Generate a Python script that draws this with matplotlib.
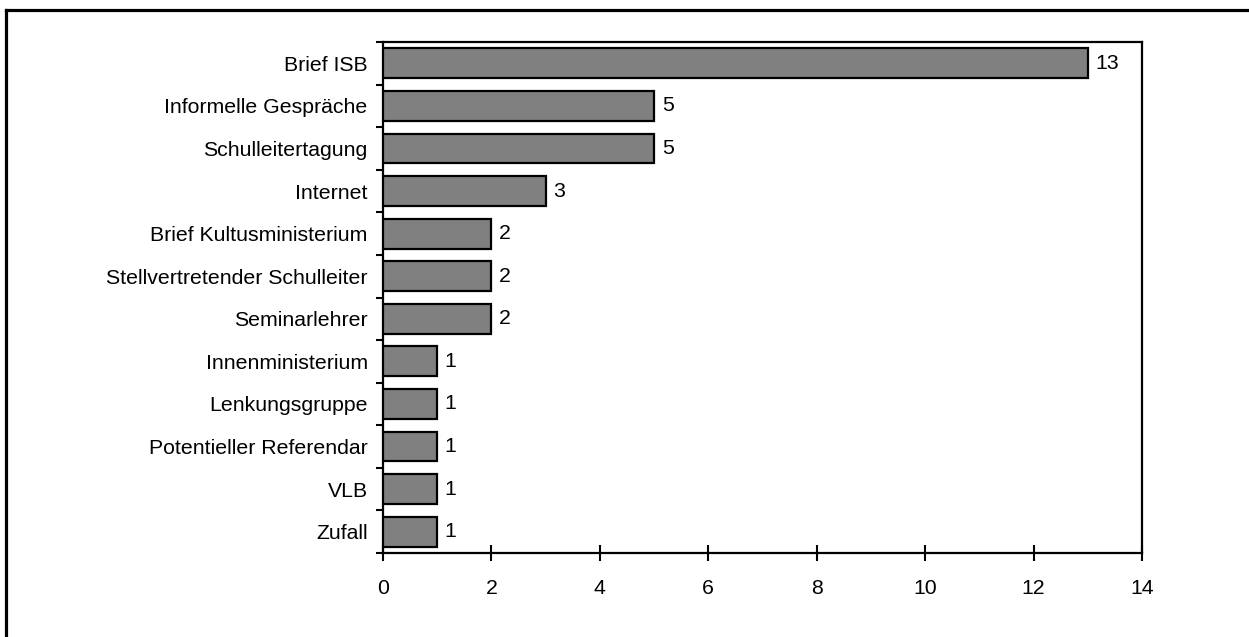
import matplotlib
matplotlib.use("Agg")
import matplotlib.pyplot as plt
from matplotlib.lines import Line2D

plt.rcParams['font.family'] = ['Liberation Sans', 'DejaVu Sans']

categories = ["Brief ISB", "Informelle Gespräche", "Schulleitertagung", "Internet",
              "Brief Kultusministerium", "Stellvertretender Schulleiter",
              "Seminarlehrer", "Innenministerium", "Lenkungsgruppe",
              "Potentieller Referendar", "VLB", "Zufall"]
values = [13, 5, 5, 3, 2, 2, 2, 1, 1, 1, 1, 1]
x_ticks = [0, 2, 4, 6, 8, 10, 12, 14]

FS = 15.3
W, H = 1249, 637
fig = plt.figure(figsize=(W / 100, H / 100), dpi=100)
ax = fig.add_axes([383 / W, 1 - 553 / H, (1142 - 383) / W, (553 - 42) / H])

pos = list(range(len(categories)))
ax.barh(pos, values, height=0.7, color="#808080", edgecolor="black", linewidth=1.6, zorder=3)
for p, v in zip(pos, values):
    ax.text(v + 0.14, p, str(v), va="center", ha="left", fontsize=FS)

ax.set_xlim(0, 14)
ax.set_ylim(len(categories) - 0.5, -0.5)
ax.set_xticks(x_ticks)
ax.set_xticklabels([str(t) for t in x_ticks], fontsize=FS)
ax.set_yticks(pos)
ax.set_yticklabels(categories, fontsize=FS)
ax.set_yticks([i - 0.5 for i in range(len(categories) + 1)], minor=True)

ax.tick_params(axis="y", which="major", length=0, pad=11)
ax.tick_params(axis="y", which="minor", length=5, width=1.5, direction="out")
ax.tick_params(axis="x", which="major", length=12, width=1.5, direction="inout", pad=13)

for s in ax.spines.values():
    s.set_linewidth(1.6)

# outer frame (left and top edges)
fig.add_artist(Line2D([6 / W, 6 / W], [0, 1 - 10 / H], transform=fig.transFigure,
                      color="black", linewidth=2.3))
fig.add_artist(Line2D([6 / W, 1], [1 - 10 / H, 1 - 10 / H], transform=fig.transFigure,
                      color="black", linewidth=2.3))

fig.savefig("out.png", dpi=100)
